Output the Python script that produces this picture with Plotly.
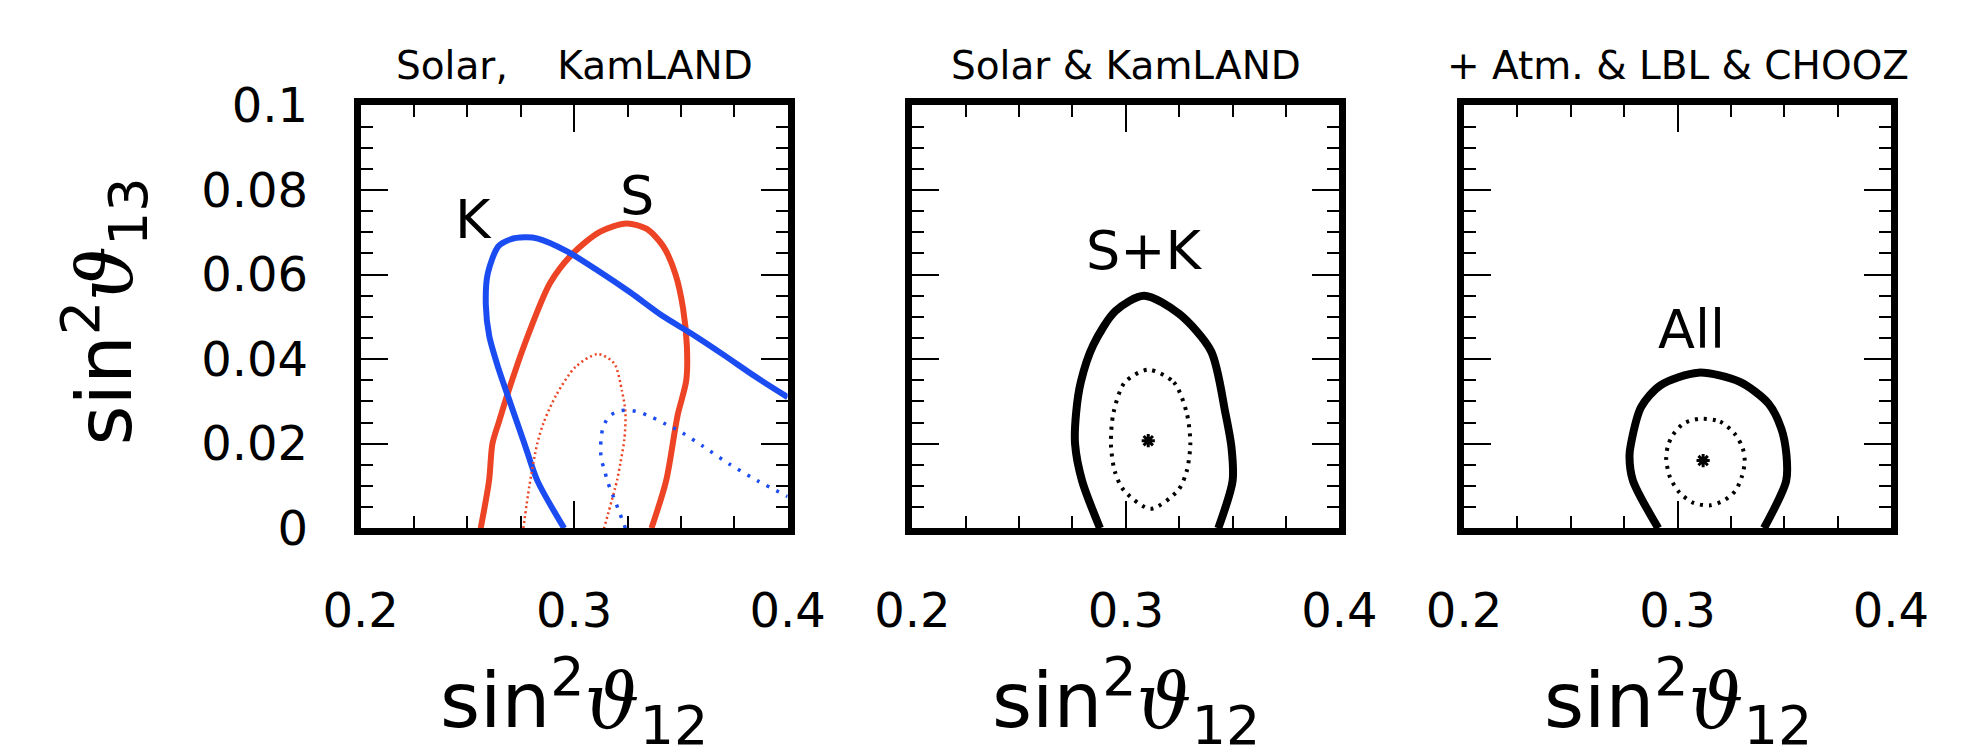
import plotly.graph_objects as go

# ---------------- data ----------------
# Panel 1: Solar (S, red) and KamLAND (K, blue)
s_x = [0.2562, 0.2601, 0.2617, 0.2647, 0.2692, 0.2767, 0.2887, 0.2992, 0.3120, 0.3245,
       0.3340, 0.3417, 0.3475, 0.3510, 0.3528, 0.3525, 0.3484, 0.3431, 0.3362]
s_y = [0.0, 0.0112, 0.0200, 0.0251, 0.0324, 0.0434, 0.0580, 0.0649, 0.0701, 0.0721,
       0.0708, 0.0667, 0.0600, 0.0520, 0.0430, 0.0350, 0.0266, 0.0113, 0.0]

s_in_x = [0.2762, 0.2790, 0.2827, 0.2857, 0.2917, 0.3007, 0.3111, 0.3187, 0.3224, 0.3240,
          0.3235, 0.3217, 0.3202, 0.3140]
s_in_y = [0.0, 0.0100, 0.0200, 0.0250, 0.0316, 0.0382, 0.0412, 0.0390, 0.0324, 0.0273,
          0.0210, 0.0156, 0.0116, 0.0]

k_x = [0.2953, 0.2828, 0.2767, 0.2692, 0.2647, 0.2602, 0.2586, 0.2595, 0.2645, 0.2700,
       0.2767, 0.2830, 0.2962, 0.3112, 0.3262, 0.3411, 0.3550, 0.3700, 0.3850, 0.4000]
k_y = [0.0, 0.0112, 0.0200, 0.0309, 0.0375, 0.0455, 0.0529, 0.0602, 0.0667, 0.0683,
       0.0688, 0.0685, 0.0656, 0.0609, 0.0558, 0.0503, 0.0460, 0.0410, 0.0358, 0.0310]

k_in_x = [0.3240, 0.3195, 0.3155, 0.3142, 0.3127, 0.3124, 0.3134, 0.3164, 0.3217, 0.3269,
          0.3306, 0.3366, 0.3449, 0.3486, 0.3600, 0.3726, 0.3860, 0.4000]
k_in_y = [0.0, 0.0060, 0.0112, 0.0138, 0.0163, 0.0196, 0.0236, 0.0265, 0.0278, 0.0278,
          0.0274, 0.0262, 0.0241, 0.0232, 0.0195, 0.0152, 0.0112, 0.0075]

# Panel 2: Solar & KamLAND combined
sk_x = [0.2879, 0.2795, 0.2762, 0.2767, 0.2789, 0.2848, 0.2952, 0.3085, 0.3250, 0.3399,
        0.3466, 0.3495, 0.3500, 0.3433]
sk_y = [0.0, 0.0112, 0.0200, 0.0273, 0.0346, 0.0434, 0.0514, 0.0550, 0.0507, 0.0419,
        0.0273, 0.0190, 0.0112, 0.0]

sk_in_x = [0.3105, 0.3225, 0.3285, 0.3302, 0.3285, 0.3245, 0.3116, 0.2990, 0.2948, 0.2930,
           0.2942, 0.2995, 0.3105]
sk_in_y = [0.0375, 0.0345, 0.0273, 0.0200, 0.0135, 0.0090, 0.0046, 0.0090, 0.0135, 0.0200,
           0.0273, 0.0345, 0.0375]
sk_best = (0.3105, 0.0207)

# Panel 3: all data
all_x = [0.2910, 0.2791, 0.2775, 0.2782, 0.2830, 0.2920, 0.3098, 0.3292, 0.3426, 0.3486,
         0.3510, 0.3509, 0.3405]
all_y = [0.0, 0.0113, 0.0170, 0.0200, 0.0287, 0.0338, 0.0368, 0.0346, 0.0295, 0.0236,
         0.0175, 0.0112, 0.0]

all_in_x = [0.3105, 0.3200, 0.3270, 0.3305, 0.3315, 0.3300, 0.3270, 0.3215, 0.3150, 0.3075,
            0.3010, 0.2965, 0.2947, 0.2955, 0.2980, 0.3030, 0.3105]
all_in_y = [0.0259, 0.0252, 0.0222, 0.0190, 0.0157, 0.0120, 0.0088, 0.0065, 0.0054, 0.0060,
            0.0084, 0.0120, 0.0164, 0.0195, 0.0222, 0.0248, 0.0259]
all_best = (0.3120, 0.0160)

x_ticks = [0.2, 0.3, 0.4]
x_tick_text = ["0.2", "0.3", "0.4"]
y_ticks = [0.0, 0.02, 0.04, 0.06, 0.08, 0.1]
y_tick_text = ["0", "0.02", "0.04", "0.06", "0.08", "0.1"]

panel_titles = ["Solar,    KamLAND", "Solar & KamLAND", "+ Atm. & LBL & CHOOZ"]
region_labels = [("K", 0.2526, 0.0730, 1), ("S", 0.3294, 0.0787, 1),
                 ("S+K", 0.3088, 0.0658, 2), ("All", 0.3065, 0.0471, 3)]

# ---------------- figure ----------------
W, H = 1978, 756
RED = "#EC4424"
BLUE = "#1B4CF2"
FONT = "DejaVu Sans"
THETA = '<span style="font-family:DejaVu Serif;font-style:italic">\u03d1</span>'

x_dom = [(327.3 / W, 771.3 / W), (901.0 / W, 1345.0 / W), (1474.7 / W, 1918.7 / W)]
y_dom = ((H - 531.6) / H, (H - 75.0) / H)

fig = go.Figure()


def add_line(x, y, color, width, dash, panel):
    fig.add_trace(go.Scatter(
        x=x, y=y, mode="lines",
        line=dict(color=color, width=width, dash=dash, shape="spline", smoothing=0.8),
        xaxis="x" if panel == 1 else f"x{panel}",
        yaxis="y" if panel == 1 else f"y{panel}",
        showlegend=False, hoverinfo="skip"))


add_line(s_x, s_y, RED, 6, "solid", 1)
add_line(k_x, k_y, BLUE, 6, "solid", 1)
add_line(s_in_x, s_in_y, RED, 2.5, "2px,3px", 1)
add_line(k_in_x, k_in_y, BLUE, 3.5, "3px,8px", 1)

add_line(sk_x, sk_y, "black", 8, "solid", 2)
add_line(sk_in_x, sk_in_y, "black", 4, "3px,6px", 2)
add_line(all_x, all_y, "black", 8, "solid", 3)
add_line(all_in_x, all_in_y, "black", 4, "3px,6px", 3)

for (bx, by), p in [(sk_best, 2), (all_best, 3)]:
    fig.add_trace(go.Scatter(
        x=[bx], y=[by], mode="markers",
        marker=dict(symbol="asterisk-open", size=11, color="black",
                    line=dict(width=3, color="black")),
        xaxis=f"x{p}", yaxis=f"y{p}", showlegend=False, hoverinfo="skip"))

axis_common = dict(
    showline=True, linewidth=7, linecolor="black", mirror="allticks",
    ticks="inside", ticklen=27, tickwidth=2, tickcolor="black",
    showgrid=False, zeroline=False, fixedrange=True,
    tickfont=dict(family=FONT, size=48, color="black"),
)

layout = dict(
    width=W, height=H, margin=dict(l=0, r=0, t=0, b=0),
    paper_bgcolor="white", plot_bgcolor="white",
    showlegend=False,
)
for i in range(3):
    sx = "" if i == 0 else str(i + 1)
    layout[f"xaxis{sx}"] = dict(
        axis_common, domain=list(x_dom[i]), range=[0.2, 0.4],
        tickmode="array", tickvals=x_ticks, ticktext=x_tick_text,
        ticklabelstandoff=34,
        minor=dict(ticks="inside", ticklen=12, tickwidth=2, tickcolor="black",
                   dtick=0.025, showgrid=False),
        anchor="y" if i == 0 else f"y{i + 1}")
    layout[f"yaxis{sx}"] = dict(
        axis_common, domain=list(y_dom), range=[0.0, 0.1],
        tickmode="array", tickvals=y_ticks, ticktext=y_tick_text,
        showticklabels=(i == 0), ticklabelstandoff=36,
        minor=dict(ticks="inside", ticklen=12, tickwidth=2, tickcolor="black",
                   dtick=0.005, showgrid=False),
        anchor="x" if i == 0 else f"x{i + 1}")
fig.update_layout(**layout)

annotations = []
for i, t in enumerate(panel_titles):
    annotations.append(dict(
        text=t, xref="paper", yref="paper",
        x=(x_dom[i][0] + x_dom[i][1]) / 2, y=(H - 32) / H,
        xanchor="center", yanchor="middle", showarrow=False,
        font=dict(family=FONT, size=39, color="black")))
    annotations.append(dict(
        text="sin<sup>2</sup>" + THETA + "<sub>12</sub>", xref="paper", yref="paper",
        x=(x_dom[i][0] + x_dom[i][1]) / 2, y=(H - 718) / H,
        xanchor="center", yanchor="middle", showarrow=False,
        font=dict(family=FONT, size=77, color="black")))

annotations.append(dict(
    text="sin<sup>2</sup>" + THETA + "<sub>13</sub>", xref="paper", yref="paper",
    x=61 / W, y=(H - 298) / H, textangle=-90,
    xanchor="center", yanchor="middle", showarrow=False,
    font=dict(family=FONT, size=77, color="black")))

for txt, lx, ly, p in region_labels:
    annotations.append(dict(
        text=txt, x=lx, y=ly,
        xref="x" if p == 1 else f"x{p}", yref="y" if p == 1 else f"y{p}",
        xanchor="center", yanchor="middle", showarrow=False,
        font=dict(family=FONT, size=54, color="black")))

fig.update_layout(annotations=annotations)
fig.write_html("out.html")
